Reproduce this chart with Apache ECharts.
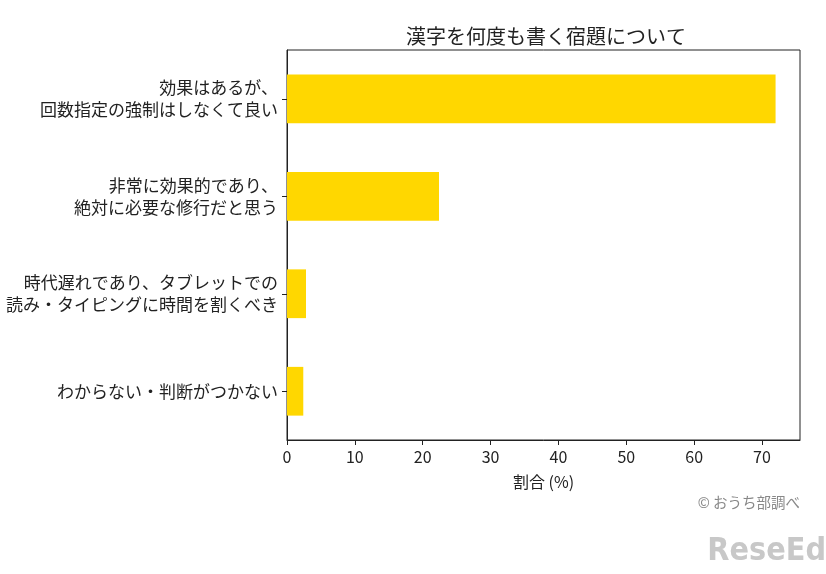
<!DOCTYPE html>
<html>
<head>
<meta charset="utf-8">
<script src="https://cdn.jsdelivr.net/npm/echarts@6/dist/echarts.min.js"></script>
<style>
  html, body { margin: 0; padding: 0; background: #fff; }
  #chart { width: 826px; height: 574px; }
</style>
</head>
<body>
<div id="chart"></div>
<script>
var categories = [
  '効果はあるが、\n回数指定の強制はしなくて良い',
  '非常に効果的であり、\n絶対に必要な修行だと思う',
  '時代遅れであり、タブレットでの\n読み・タイピングに時間を割くべき',
  'わからない・判断がつかない'
];
var values = [72.0, 22.4, 2.8, 2.4];
var xTicks = [0, 10, 20, 30, 40, 50, 60, 70];

var font = '"Noto Sans CJK JP", "Noto Sans", sans-serif';
var chart = echarts.init(document.getElementById('chart'));

chart.setOption({
  animation: false,
  textStyle: { fontFamily: font },
  title: {
    text: '漢字を何度も書く宿題について',
    left: 541,
    textAlign: 'center',
    top: 21,
    textStyle: { fontSize: 20, fontWeight: 'normal', color: '#222', fontFamily: font }
  },
  grid: {
    left: 287, right: 26, top: 50, bottom: 134,
    show: true, borderColor: '#222', borderWidth: 1,
    containLabel: false
  },
  xAxis: {
    type: 'value',
    min: 0,
    max: 75.6,
    interval: 10,
    name: '割合 (%)',
    nameLocation: 'middle',
    nameGap: 34,
    nameTextStyle: { fontSize: 16, color: '#222', fontFamily: font },
    splitLine: { show: false },
    axisLine: { show: true, lineStyle: { color: '#222' } },
    axisTick: { show: true, length: 5, lineStyle: { color: '#222' } },
    axisLabel: {
      fontSize: 16, color: '#222', margin: 9, showMaxLabel: false,
      formatter: function (v) { return xTicks.indexOf(v) >= 0 ? String(v) : ''; }
    }
  },
  yAxis: {
    type: 'category',
    inverse: true,
    data: categories,
    axisLine: { show: true, lineStyle: { color: '#222' } },
    axisTick: { show: true, length: 5, alignWithLabel: true, lineStyle: { color: '#222' } },
    axisLabel: { fontSize: 17, color: '#222', lineHeight: 22, margin: 9, align: 'right' }
  },
  series: [{
    type: 'bar',
    data: values,
    barWidth: '50%',
    itemStyle: { color: '#FFD700' },
    silent: true
  }],
  graphic: [
    {
      type: 'text', right: 26, top: 495,
      style: { text: '© おうち部調べ', fill: '#888', font: '14.5px ' + font }
    },
    {
      type: 'text', right: 0, top: 536,
      style: { text: 'ReseEd', fill: '#c8c8c8', font: 'bold 32px "DejaVu Sans Condensed", sans-serif' }
    }
  ]
});
</script>
</body>
</html>
